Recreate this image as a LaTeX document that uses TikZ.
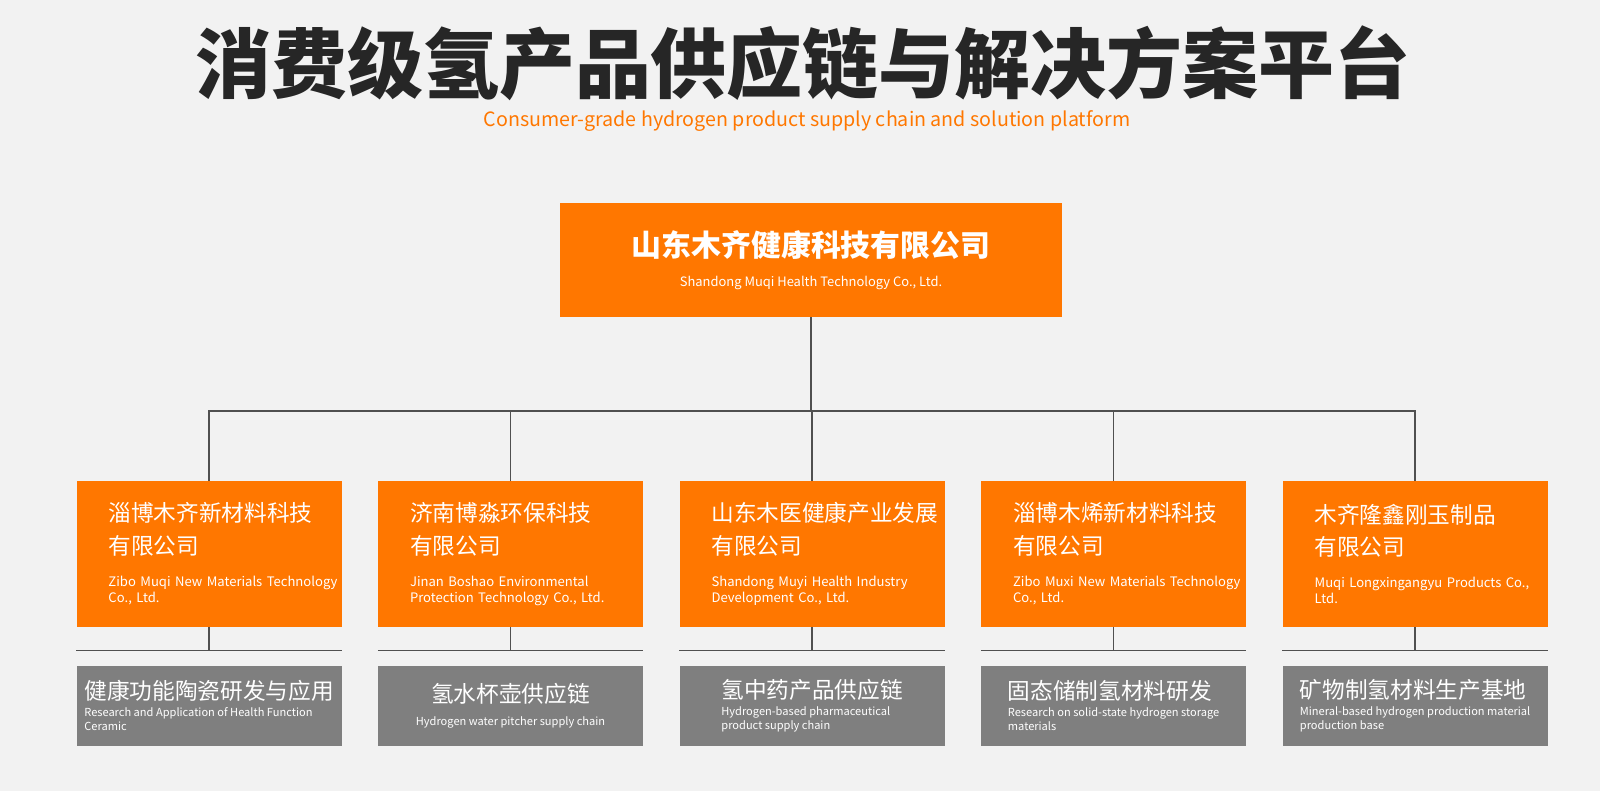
\documentclass[tikz,border=0pt]{standalone}
\usepackage{fontspec}
\setmainfont{Noto Sans CJK SC}
\usetikzlibrary{positioning}
\definecolor{muqiorange}{HTML}{FF7700}
\definecolor{bggray}{HTML}{F2F2F2}
\definecolor{boxgray}{HTML}{7F7F7F}
\definecolor{linegray}{HTML}{505050}
\definecolor{titleblack}{HTML}{262626}
\tikzstyle{title} = [text centered, text=titleblack, font=\fontsize{57}{60}\selectfont\bfseries]
\tikzstyle{subtitle} = [text centered, text=muqiorange, font=\fontsize{14.75}{16}\selectfont]
\tikzstyle{top_block} = [rectangle, minimum width=376.5pt, minimum height=85.5pt, align=center, fill=muqiorange, text=white]
\tikzstyle{orange_block} = [rectangle, minimum width=198.75pt, minimum height=108.75pt, inner xsep=0pt, text width=198.75pt, align=left, fill=muqiorange, text=white]
\tikzstyle{gray_block} = [rectangle, minimum width=198.75pt, minimum height=60pt, align=left, fill=boxgray, text=white, font=\fontsize{8.3}{10.5}\selectfont]
\tikzstyle{link} = [draw=linegray, line width=1.1pt]
\newcommand{\cnbig}{\leftskip=24pt\fontsize{17}{24.7}\selectfont}
\newcommand{\ensmall}{\leftskip=24pt\fontsize{9.8}{12}\selectfont}
\newcommand{\cnmid}{\fontsize{17}{20}\selectfont}

\begin{document}
\begin{tikzpicture}[x=0.75pt, y=-0.75pt]
		\fill[bggray] (0,0) rectangle (1600,791);
		\node (head) [title] at (803,63) {消费级氢产品供应链与解决方案平台};
		\node (headen) [subtitle] at (807,121) {Consumer-grade hydrogen product supply chain and solution platform};

		\node (muqi) [top_block] at (811,260) {{\fontsize{22.4}{27}\selectfont\bfseries 山东木齐健康科技有限公司}\\[10pt]{\fontsize{9.7}{12}\selectfont Shandong Muqi Health Technology Co., Ltd.}};

		\node (zibo) [orange_block] at (209,554) {{\cnbig 淄博木齐新材料科技\\有限公司\par}\vspace{12pt}{\ensmall Zibo Muqi New Materials Technology\\Co., Ltd.\par}};
		\node (jinan) [orange_block, right=27pt of zibo] {{\cnbig 济南博淼环保科技\\有限公司\par}\vspace{12pt}{\ensmall Jinan Boshao Environmental\\Protection Technology Co., Ltd.\par}};
		\node (muyi) [orange_block, right=27pt of jinan] {{\cnbig 山东木医健康产业发展\\有限公司\par}\vspace{12pt}{\ensmall Shandong Muyi Health Industry\\Development Co., Ltd.\par}};
		\node (muxi) [orange_block, right=27pt of muyi] {{\cnbig 淄博木烯新材料科技\\有限公司\par}\vspace{12pt}{\ensmall Zibo Muxi New Materials Technology\\Co., Ltd.\par}};
		\node (longxin) [orange_block, right=27pt of muxi] {{\cnbig 木齐隆鑫刚玉制品\\有限公司\par}\vspace{12pt}{\ensmall Muqi Longxingangyu Products Co.,\\Ltd.\par}};

		\node (ceramic) [gray_block, below=28.9pt of zibo] {{\cnmid 健康功能陶瓷研发与应用}\\[2pt]Research and Application of Health Function\\Ceramic};
		\node (pitcher) [gray_block, below=28.9pt of jinan, align=center] {{\cnmid 氢水杯壶供应链}\\[7pt]Hydrogen water pitcher supply chain};
		\node (pharma) [gray_block, below=28.9pt of muyi] {{\cnmid 氢中药产品供应链}\\[2pt]Hydrogen-based pharmaceutical\\product supply chain};
		\node (storage) [gray_block, below=28.9pt of muxi] {{\cnmid 固态储制氢材料研发}\\[2pt]Research on solid-state hydrogen storage\\materials};
		\node (mineral) [gray_block, below=28.9pt of longxin] {{\cnmid 矿物制氢材料生产基地}\\[2pt]Mineral-based hydrogen production material\\production base};

		\coordinate (bus) at (811,411);
		\draw [link] (muqi.south) -- (bus);
		\draw [link] (zibo.north) -- (zibo.north |- bus) -- (longxin.north |- bus) -- (longxin.north);
		\draw [link] (jinan.north) -- (jinan.north |- bus);
		\draw [link] (muyi.north) -- (muyi.north |- bus);
		\draw [link] (muxi.north) -- (muxi.north |- bus);

		\draw [link] (zibo.south) -- ([yshift=11.25pt]ceramic.north);
		\draw [link] ([yshift=11.25pt]ceramic.north west) -- ([yshift=11.25pt]ceramic.north east);
		\draw [link] (jinan.south) -- ([yshift=11.25pt]pitcher.north);
		\draw [link] ([yshift=11.25pt]pitcher.north west) -- ([yshift=11.25pt]pitcher.north east);
		\draw [link] (muyi.south) -- ([yshift=11.25pt]pharma.north);
		\draw [link] ([yshift=11.25pt]pharma.north west) -- ([yshift=11.25pt]pharma.north east);
		\draw [link] (muxi.south) -- ([yshift=11.25pt]storage.north);
		\draw [link] ([yshift=11.25pt]storage.north west) -- ([yshift=11.25pt]storage.north east);
		\draw [link] (longxin.south) -- ([yshift=11.25pt]mineral.north);
		\draw [link] ([yshift=11.25pt]mineral.north west) -- ([yshift=11.25pt]mineral.north east);

\end{tikzpicture}
\end{document}
